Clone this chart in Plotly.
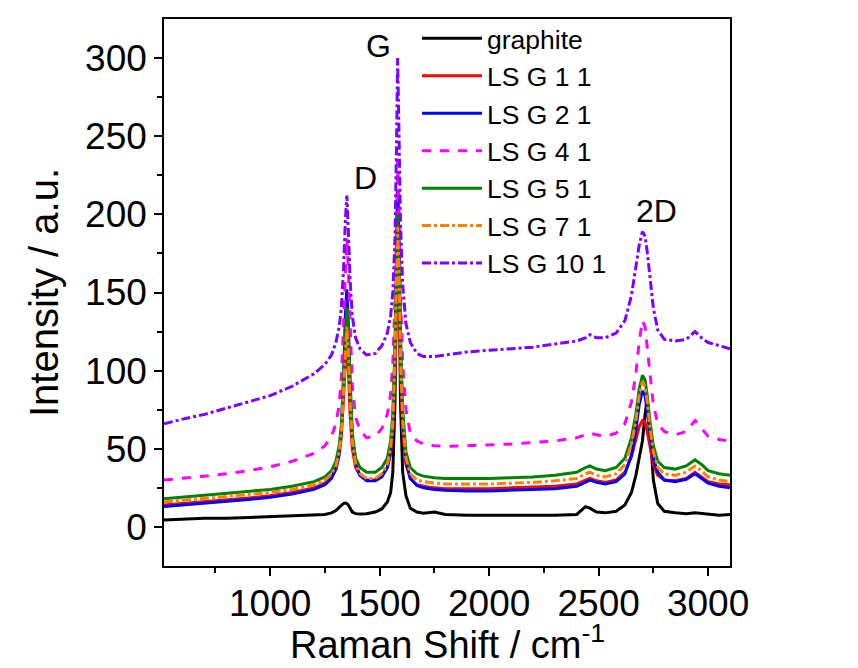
import plotly.graph_objects as go

# Raman shift grid (cm^-1)
shift = [515, 600, 700, 800, 900, 1000, 1100, 1200, 1250, 1280, 1300, 1315, 1325, 1335, 1343, 1350, 1357, 1365, 1375, 1390,
         1410, 1440, 1480, 1510, 1535, 1550, 1560, 1570, 1577, 1582, 1588, 1595, 1605, 1620, 1640, 1670, 1700, 1750, 1800, 1900,
         2000, 2100, 2200, 2300, 2400, 2440, 2460, 2490, 2530, 2580, 2620, 2650, 2670, 2685, 2700, 2712, 2722, 2735, 2750, 2770,
         2800, 2850, 2900, 2940, 2970, 3000, 3050, 3100]

graphite = [4.5, 5, 5.5, 5.5, 6, 6.5, 7, 7.5, 8, 9, 10.5, 12.5, 14, 15, 15.3, 15, 14, 11.5, 9.5, 8.5,
            8.3, 8.5, 9.5, 11.5, 16, 22, 35, 80, 170, 215, 180, 80, 35, 20, 12, 9.5, 8.8, 9.5, 8, 7.5,
            7.5, 7.5, 7.5, 7.5, 8, 13, 12, 9.5, 9, 10, 14, 22, 33, 44, 55, 72, 82, 60, 30, 15,
            10, 9, 8.5, 9, 8.5, 8, 7.5, 8]

lsg_1_1 = [14, 15, 16, 17, 18.5, 20, 22, 25, 28, 32, 37, 46, 58, 82, 105, 115, 100, 72, 50, 38,
           33, 30, 30, 33, 38, 47, 62, 100, 145, 170, 150, 100, 62, 40, 31, 27, 26, 25, 24.5, 24.5,
           24.5, 25, 25.5, 26, 27.5, 30, 31, 29.5, 28.5, 30, 35, 45, 55, 64, 68, 67, 61, 50, 40, 33,
           30, 29.5, 31, 35, 32, 29, 27.5, 27]

lsg_2_1 = [13, 14, 15, 16, 17.5, 19, 21, 24, 27, 31, 37, 47, 62, 95, 135, 152, 130, 88, 58, 40,
           33, 29.5, 29.5, 32, 38, 48, 66, 112, 175, 212, 182, 120, 70, 42, 31, 26.5, 25, 24, 23.5, 23,
           23, 23.5, 24, 24.5, 26, 29, 30, 28.5, 27.5, 29, 34, 46, 62, 78, 87, 84, 74, 58, 44, 35,
           30, 29, 30.5, 34, 31, 28, 26, 25]

lsg_4_1 = [30, 31, 32.5, 34, 36, 38.5, 42, 47, 52, 58, 66, 78, 95, 130, 165, 185, 165, 125, 90, 70,
           62, 57, 58, 63, 72, 85, 105, 145, 200, 235, 205, 150, 105, 75, 60, 55, 53, 52, 51.5, 52,
           52.5, 53, 54, 55, 57, 59, 60, 59, 58, 60, 66, 80, 98, 118, 132, 128, 115, 95, 78, 66,
           61, 59, 61, 68, 63, 58, 56, 55]

lsg_5_1 = [18, 19, 20.5, 21.5, 22.5, 24, 26, 29, 32, 36, 42, 52, 65, 95, 125, 141, 122, 88, 60, 44,
           38, 35, 35, 38, 44, 55, 72, 115, 170, 200, 175, 120, 75, 48, 38, 34, 32.5, 31.5, 31, 31,
           31, 31.5, 32, 33, 35, 38, 39, 37, 36, 38, 44, 57, 72, 88, 97, 94, 84, 67, 52, 42,
           38, 37, 39, 43, 40, 36, 34, 33]

lsg_7_1 = [16, 17, 18, 19.5, 20.5, 22, 24, 27, 30, 34, 39, 48, 60, 88, 115, 128, 112, 80, 55, 40,
           34, 31, 31, 34, 40, 50, 66, 108, 162, 192, 168, 112, 68, 44, 34, 30, 29, 28, 27.5, 27.5,
           27.5, 28, 28.5, 29.5, 31, 34, 35, 33, 32, 34, 40, 53, 68, 84, 93, 90, 80, 63, 48, 38,
           34, 33, 35, 39, 36, 32, 30, 29]

lsg_10_1 = [66, 69, 72, 76, 80, 84, 90, 98, 104, 110, 118, 128, 140, 165, 195, 212, 190, 158, 135, 121,
            114, 110, 111, 116, 124, 135, 150, 185, 245, 300, 255, 195, 155, 130, 118, 111, 109, 109, 110, 112,
            113, 114, 115, 117, 119, 121, 123, 121, 121, 124, 132, 148, 165, 180, 189, 186, 176, 158, 140, 126,
            120, 119, 120, 125, 121, 118, 116, 114]

names = ["graphite", "LS G 1 1", "LS G 2 1", "LS G 4 1", "LS G 5 1", "LS G 7 1", "LS G 10 1"]
series = [graphite, lsg_1_1, lsg_2_1, lsg_4_1, lsg_5_1, lsg_7_1, lsg_10_1]
colors = ["#000000", "#FF0000", "#0000FF", "#FF00FF", "#008000", "#FF8000", "#8000FF"]
dashes = ["solid", "solid", "solid", "dash", "solid", "dashdot", "dashdot"]

peak_labels = ["G", "D", "2D"]
peak_x = [1493, 1434, 2763]
peak_y = [308, 223, 202]

x_title = "Raman Shift / cm<sup>-1</sup>"
y_title = "Intensity / a.u."

FONT = "Arial, Liberation Sans, sans-serif"

fig = go.Figure()
for i, (n, s, c, d) in enumerate(zip(names, series, colors, dashes)):
    fig.add_trace(go.Scatter(x=shift, y=s, mode="lines", name=n,
                             line=dict(color=c, width=3, dash=d)))

for t, px, py in zip(peak_labels, peak_x, peak_y):
    fig.add_annotation(x=px, y=py, text=t, showarrow=False,
                       font=dict(family=FONT, size=32, color="black"))

# x-axis title placed as a paper annotation for exact placement
fig.add_annotation(xref="paper", yref="paper", x=0.5, y=-0.186, xanchor="center", yanchor="bottom",
                   text=x_title, showarrow=False, font=dict(family=FONT, size=38, color="black"))

axis_common = dict(showline=True, linecolor="black", linewidth=1.5, mirror=True,
                   ticks="outside", ticklen=8, tickwidth=1.5, tickcolor="black",
                   showgrid=False, zeroline=False,
                   tickfont=dict(family=FONT, size=37, color="black"))

fig.update_xaxes(range=[515, 3100], tickvals=[1000, 1500, 2000, 2500, 3000],
                 minor=dict(ticks="outside", ticklen=5, tickwidth=1.5, tickcolor="black",
                            tickvals=[750, 1250, 1750, 2250, 2750]),
                 ticklabelstandoff=-4,
                 **axis_common)
fig.update_yaxes(range=[-25, 325], tickvals=[0, 50, 100, 150, 200, 250, 300],
                 minor=dict(ticks="outside", ticklen=5, tickwidth=1.5, tickcolor="black",
                            tickvals=[25, 75, 125, 175, 225, 275]),
                 title=dict(text=y_title, font=dict(family=FONT, size=40, color="black"),
                            standoff=14),
                 **axis_common)

fig.update_layout(
    width=858, height=668,
    margin=dict(l=164, r=128, t=19, b=102, autoexpand=False),
    paper_bgcolor="white", plot_bgcolor="white",
    showlegend=True,
    legend=dict(x=0.447, y=1.008, xanchor="left", yanchor="top",
                bgcolor="rgba(0,0,0,0)", borderwidth=0,
                font=dict(family=FONT, size=26.5, color="black"),
                itemwidth=60),
)

fig.write_html("out.html")
